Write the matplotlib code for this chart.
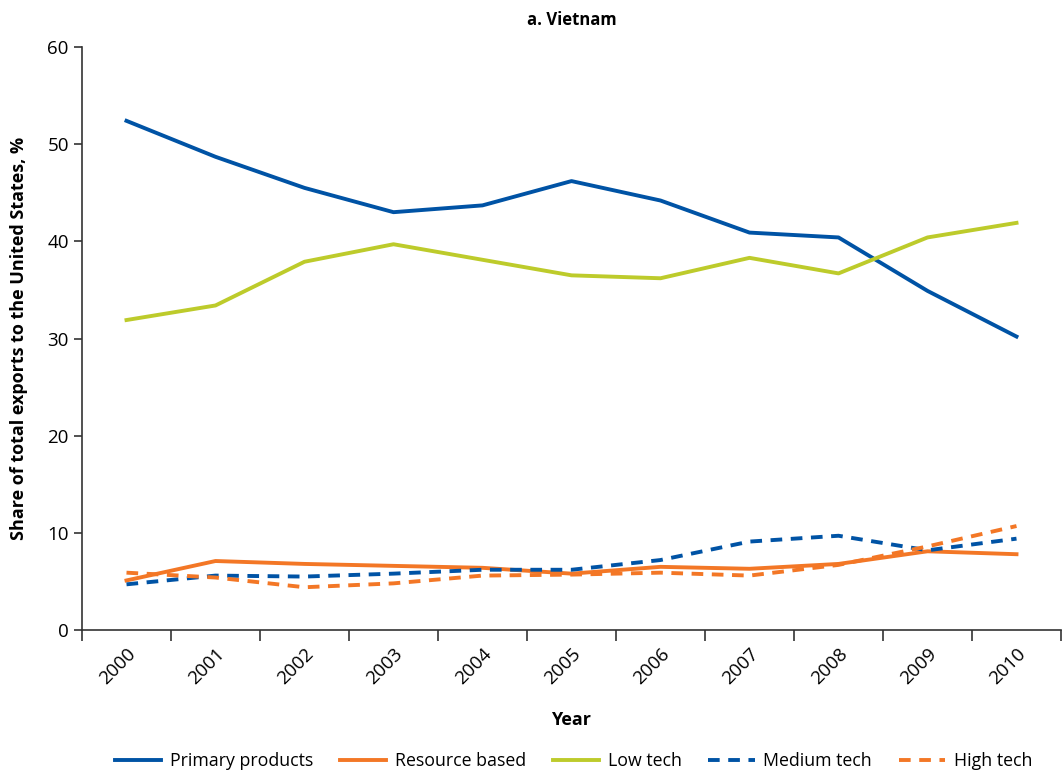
"""Vietnam: share of total exports to the United States by technology class."""

import numpy as np
import matplotlib
matplotlib.use('Agg')
import matplotlib.pyplot as plt
from matplotlib.ticker import FixedLocator

plt.rcParams['font.family'] = ['Open Sans', 'DejaVu Sans']

years = ['2000', '2001', '2002', '2003', '2004', '2005',
         '2006', '2007', '2008', '2009', '2010']

primary = [52.4, 48.7, 45.5, 43.0, 43.7, 46.2, 44.2, 40.9, 40.4, 34.9, 30.2]
resource = [5.1, 7.1, 6.8, 6.6, 6.4, 5.8, 6.5, 6.3, 6.8, 8.1, 7.8]
low_tech = [31.9, 33.4, 37.9, 39.7, 38.1, 36.5, 36.2, 38.3, 36.7, 40.4, 41.9]
medium_tech = [4.7, 5.6, 5.5, 5.8, 6.2, 6.2, 7.2, 9.1, 9.7, 8.2, 9.4]
high_tech = [5.9, 5.4, 4.4, 4.8, 5.6, 5.7, 5.9, 5.6, 6.7, 8.6, 10.7]

BLUE = '#0053a5'
ORANGE = '#f37726'
GREEN = '#bdcb2b'

fig = plt.figure(figsize=(10.64, 7.72), dpi=100)
ax = fig.add_axes([82 / 1064, 142 / 772, 979 / 1064, 583 / 772])

x = np.arange(len(years))
lw = 2.8
ax.plot(x, primary, color=BLUE, lw=lw, label='Primary products')
ax.plot(x, resource, color=ORANGE, lw=lw, label='Resource based')
ax.plot(x, low_tech, color=GREEN, lw=lw, label='Low tech')
ax.plot(x, medium_tech, color=BLUE, lw=lw, ls=(0, (3, 2.2)), label='Medium tech')
ax.plot(x, high_tech, color=ORANGE, lw=lw, ls=(0, (3, 2.2)), label='High tech')

ax.set_xlim(-0.5, len(years) - 0.5)
ax.set_ylim(0, 60)
ax.set_yticks(np.arange(0, 61, 10))

# labels at category centres, tick marks on category edges
ax.set_xticks(x)
ax.set_xticklabels(years, rotation=45, ha='right', rotation_mode='anchor')
ax.xaxis.set_minor_locator(FixedLocator(np.arange(-0.5, len(years), 1.0)))
ax.tick_params(axis='x', which='major', length=0, pad=11, labelsize=13.5)
ax.tick_params(axis='x', which='minor', length=8, width=1.2, color='#333333')
ax.tick_params(axis='y', length=6, width=1.2, color='#333333', labelsize=13.5)

for side in ['top', 'right']:
    ax.spines[side].set_visible(False)
for side in ['left', 'bottom']:
    ax.spines[side].set_linewidth(1.2)
    ax.spines[side].set_color('#333333')

ax.set_title('a. Vietnam', fontsize=12, fontweight='bold', pad=16)
ax.set_xlabel('Year', fontsize=13, fontweight='bold', labelpad=16)
ax.set_ylabel('Share of total exports to the United States, %',
              fontsize=13, fontweight='bold', labelpad=14)

fig.legend(loc='lower center', bbox_to_anchor=(0.539, -0.018), ncol=5,
           frameon=False, fontsize=12.8, handlelength=2.6, columnspacing=1.5,
           handletextpad=0.5)

fig.savefig('out.png', dpi=100)
